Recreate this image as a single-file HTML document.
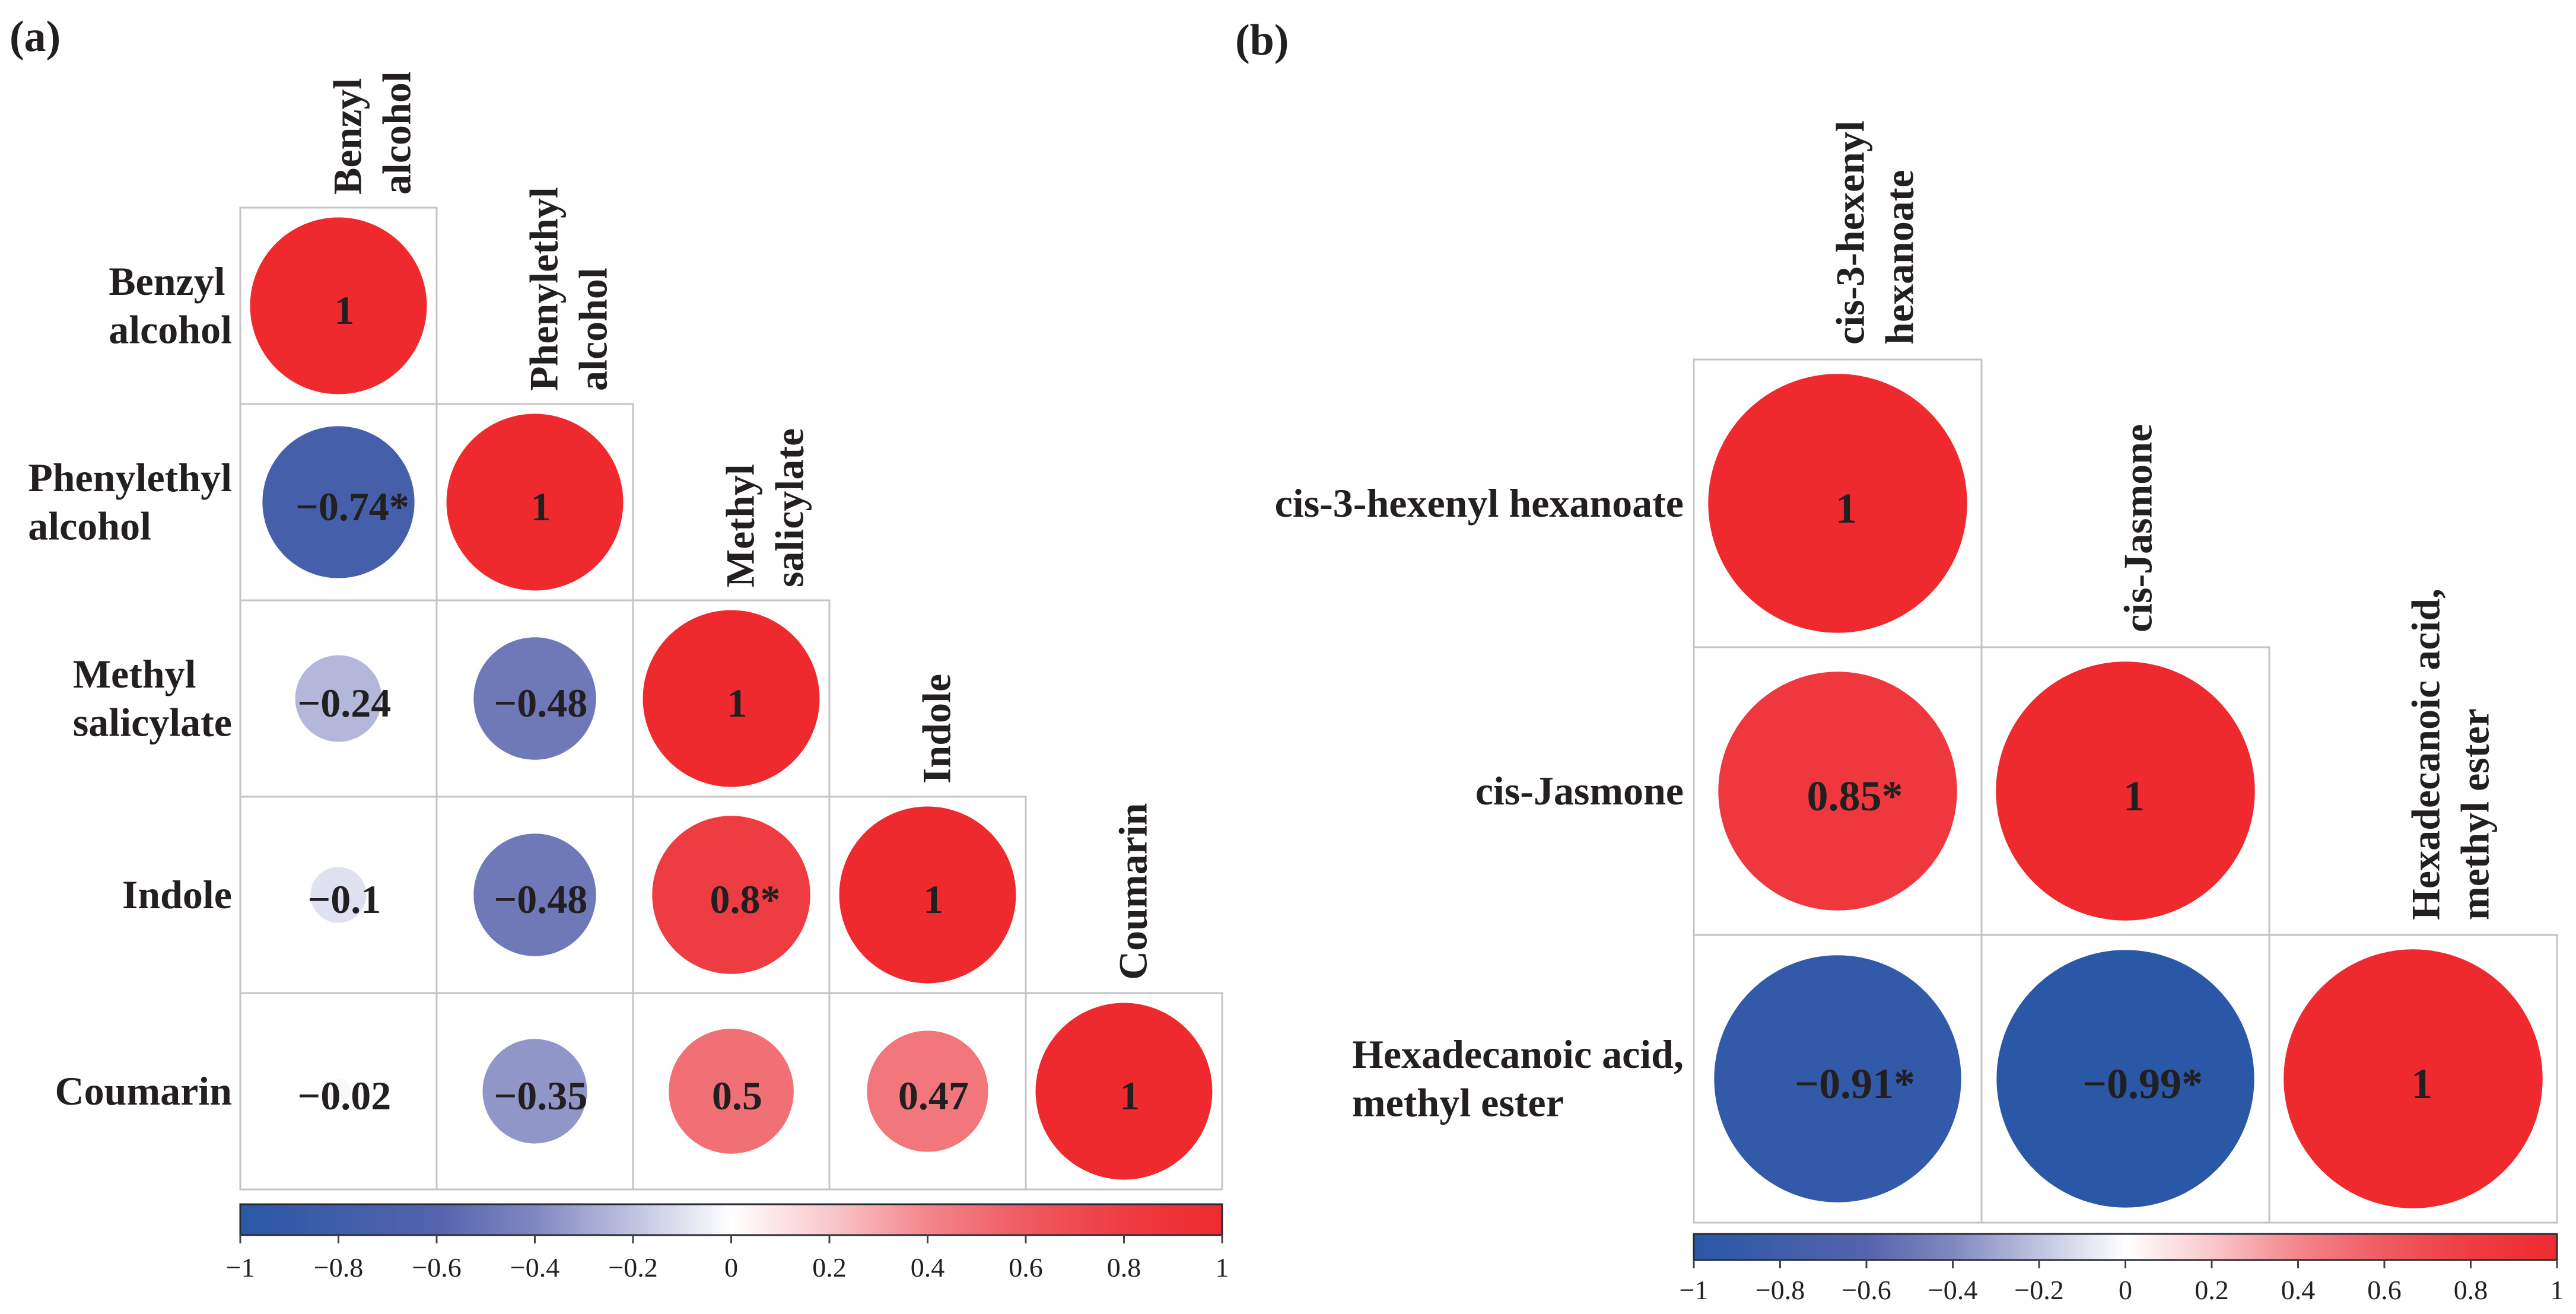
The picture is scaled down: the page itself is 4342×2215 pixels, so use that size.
<!DOCTYPE html>
<html><head><meta charset="utf-8">
<style>
html,body{margin:0;padding:0;background:#fff;}
body{width:4342px;height:2215px;overflow:hidden;position:relative;font-family:"Liberation Serif",serif;}
svg{position:absolute;left:0;top:0;}
</style></head>
<body>
<svg id="chart" width="4342" height="2215" viewBox="0 0 4342 2215"></svg>
<script>
// ---- data ----
const labelsA = [["Benzyl","alcohol"],["Phenylethyl","alcohol"],["Methyl","salicylate"],["Indole"],["Coumarin"]];
const valuesA = [
  [1],
  [-0.74, 1],
  [-0.24, -0.48, 1],
  [-0.1, -0.48, 0.8, 1],
  [-0.02, -0.35, 0.5, 0.47, 1]
];
const sigA = [[0],[1,0],[0,0,0],[0,0,1,0],[0,0,0,0,0]];
const rowLabelsB = [["cis-3-hexenyl hexanoate"],["cis-Jasmone"],["Hexadecanoic acid,","methyl ester"]];
const colLabelsB = [["cis-3-hexenyl","hexanoate"],["cis-Jasmone"],["Hexadecanoic acid,","methyl ester"]];
const valuesB = [
  [1],
  [0.85, 1],
  [-0.91, -0.99, 1]
];
const sigB = [[0],[1,0],[1,1,0]];
const ticks = [-1,-0.8,-0.6,-0.4,-0.2,0,0.2,0.4,0.6,0.8,1];
const tickLabels = ["−1","−0.8","−0.6","−0.4","−0.2","0","0.2","0.4","0.6","0.8","1"];

const NS = "http://www.w3.org/2000/svg";
const svg = document.getElementById('chart');
function mk(tag, attrs, parent){ const e=document.createElementNS(NS,tag); for(const k in attrs) e.setAttribute(k,attrs[k]); (parent||svg).appendChild(e); return e; }

const stops = [[-1,[41,87,166]],[-0.6,[85,99,173]],[-0.4,[128,136,192]],[-0.2,[192,195,224]],[0,[255,255,255]],[0.2,[249,200,203]],[0.4,[243,134,139]],[0.6,[239,90,96]],[0.8,[238,61,66]],[1,[238,42,47]]];
function color(v){
  for(let i=0;i<stops.length-1;i++){
    const [a,ca]=stops[i],[b,cb]=stops[i+1];
    if(v>=a && v<=b){ const t=(v-a)/(b-a); const c=ca.map((x,j)=>Math.round(x+(cb[j]-x)*t)); return `rgb(${c[0]},${c[1]},${c[2]})`; }
  }
  return 'rgb(238,42,47)';
}
function fmt(v){ return (v<0?"−":"")+String(Math.abs(v)); }

function panel(cfg){
  const {x0,y0,cell,vals,sig,rowLabels,colLabels,fs,nfs,colOff,rowGap,colGap,barTop,barH,tickBase,tfs,tag} = cfg;
  const n = vals.length;
  const g = mk('g',{});
  
  
  const sx = i => x0 + cell*i;
  const sy = i => y0 + cell*i;
  for(let r=0;r<n;r++){
    for(let c=0;c<=r;c++){
      const v = vals[r][c];
      const rect = mk('rect',{x:sx(c),y:sy(r),width:cell,height:cell,fill:'none',stroke:'#c4c4c4','stroke-width':3},g);
      
      
      const cx = sx(c)+cell/2, cy = sy(r)+cell/2;
      const rad = 0.45*cell*Math.sqrt(Math.abs(v));
      const circ = mk('circle',{cx:cx,cy:cy,r:rad,fill:color(v)},g);
      
      
      const star = sig[r][c] ? "*" : "";
      const t = mk('text',{x:cx+cell*0.03+(star?nfs*0.2:0),y:cy+nfs*0.45,'text-anchor':'middle','font-size':nfs,'font-weight':'bold',fill:'#231f20'},g);
      t.textContent = fmt(v)+star;
      
      
    }
  }
  // row labels
  for(let r=0;r<n;r++){
    const lines = rowLabels[r];
    const lh = fs*1.2;
    const t = mk('text',{'font-size':fs,'font-weight':'bold',fill:'#231f20'},g);
    
    
    const cy = sy(r)+cell/2;
    const startY = cy - (lines.length-1)*lh/2 + fs*0.33;
    const spans=[];
    lines.forEach((ln,i)=>{ const s=mk('tspan',{y:startY+i*lh},t); s.textContent=ln; spans.push(s); });
    const w = Math.max(...spans.map(s=>s.getComputedTextLength()));
    spans.forEach(s=>s.setAttribute('x', x0-rowGap-w));
  }
  // column labels
  for(let c=0;c<n;c++){
    const lines = colLabels[c];
    const cx = sx(c)+cell/2;
    const by = sy(c)-colGap;
    const t = mk('text',{transform:`translate(${cx},${by}) rotate(-90)`,'font-size':fs,'font-weight':'bold',fill:'#231f20'},g);
    
    
    lines.forEach((ln,i)=>{ const s=mk('tspan',{x:0,y:colOff+i*fs*1.22},t); s.textContent=ln; });
  }
  // colorbar
  const bx0 = x0, bx1 = x0 + cell*n;
  const gid = tag+'-grad';
  const defs = mk('defs',{},g);
  const lg = mk('linearGradient',{id:gid,x1:0,x2:1,y1:0,y2:0},defs);
  for(let i=0;i<=40;i++){ const v=-1+i*0.05; mk('stop',{offset:(i/40),'stop-color':color(v)},lg); }
  const bar = mk('rect',{x:bx0,y:barTop,width:bx1-bx0,height:barH,fill:`url(#${gid})`,stroke:'#2a2a35','stroke-width':3},g);
  
  
  const bxs = v => bx0 + (v+1)/2*(bx1-bx0);
  ticks.forEach((tv,i)=>{
    const tk = mk('line',{x1:bxs(tv),x2:bxs(tv),y1:barTop+barH,y2:barTop+barH+14,stroke:'#444','stroke-width':3},g);
    
    
    const tl = mk('text',{x:bxs(tv),y:tickBase,'text-anchor':'middle','font-size':tfs,fill:'#231f20'},g);
    tl.textContent = tickLabels[i];
    
    
  });
}

panel({tag:'a',x0:405,y0:350,cell:331,vals:valuesA,sig:sigA,rowLabels:labelsA,colLabels:labelsA,fs:68,nfs:68,colOff:38,rowGap:14,colGap:22,barTop:2030,barH:52,tickBase:2152,tfs:46});
panel({tag:'b',x0:2855,y0:606,cell:485,vals:valuesB,sig:sigB,rowLabels:rowLabelsB,colLabels:colLabelsB,fs:68,nfs:72,colOff:44,rowGap:17,colGap:25,barTop:2080,barH:44,tickBase:2190,tfs:46});

const la = mk('text',{x:16,y:86,'font-size':74,'font-weight':'bold',fill:'#231f20'});
la.textContent='(a)';


const lb = mk('text',{x:2082,y:92,'font-size':74,'font-weight':'bold',fill:'#231f20'});
lb.textContent='(b)';


</script>
</body></html>
